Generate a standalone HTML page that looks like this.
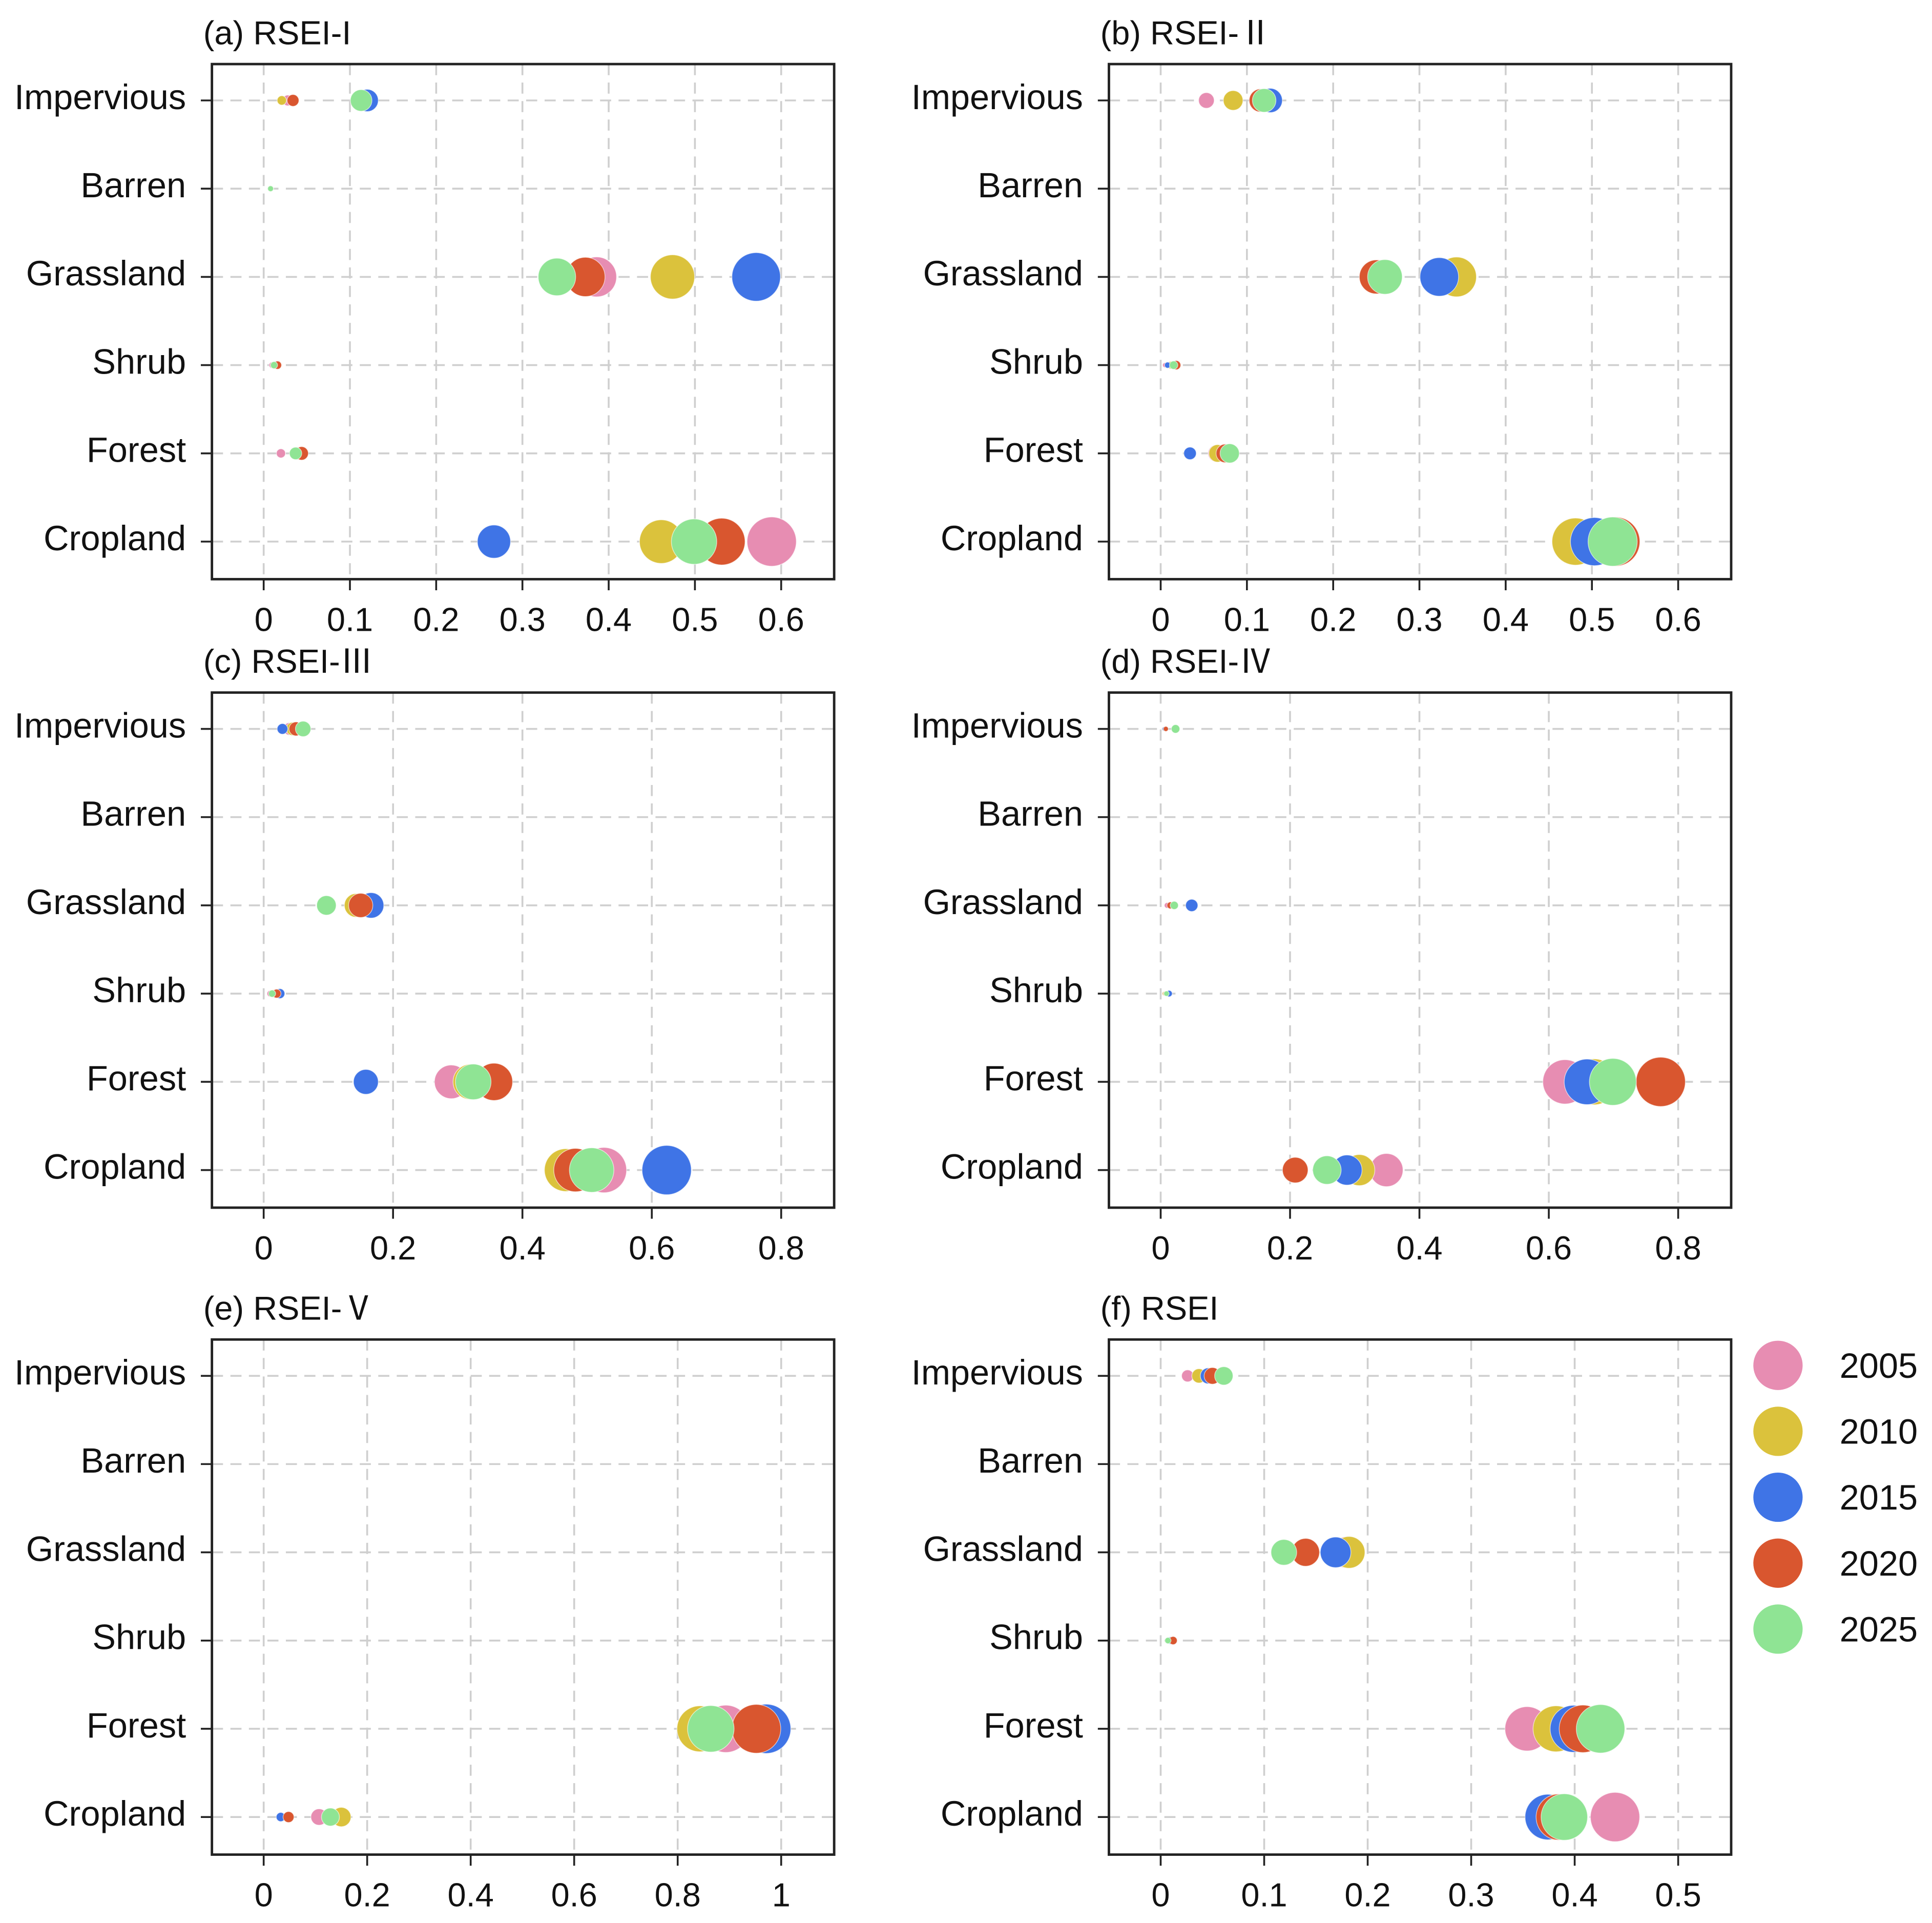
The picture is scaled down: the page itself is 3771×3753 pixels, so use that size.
<!DOCTYPE html>
<html><head><meta charset="utf-8"><style>
html,body{margin:0;padding:0;background:#fff}
svg{display:block}
text{font-family:"Liberation Sans","Noto Sans CJK SC",sans-serif;fill:#111}
</style></head><body>
<svg id="chart" width="3771" height="3753" viewBox="0 0 1568 1560.5" preserveAspectRatio="none" xmlns="http://www.w3.org/2000/svg"></svg>
<script>
const categories = ["Impervious","Barren","Grassland","Shrub","Forest","Cropland"];
const years = ["2005","2010","2015","2020","2025"];
const colors = ["#E78DB2","#DBC23C","#3F74E6","#D9562F","#8FE494"];
const panelTitles = ["(a) RSEI-I","(b) RSEI-Ⅱ","(c) RSEI-Ⅲ","(d) RSEI-Ⅳ","(e) RSEI-Ⅴ","(f) RSEI"];
const ticksA = ["0","0.1","0.2","0.3","0.4","0.5","0.6"];
const ticksC = ["0","0.2","0.4","0.6","0.8"];
const ticksE = ["0","0.2","0.4","0.6","0.8","1"];
const ticksF = ["0","0.1","0.2","0.3","0.4","0.5"];
// values per panel: [category][year 2005,2010,2015,2020,2025]
const valuesA = [[0.028,0.021,0.12,0.034,0.113],[0.008,0.008,0.008,0.008,0.008],[0.386,0.474,0.571,0.373,0.34],[0.01,0.012,0.014,0.016,0.012],[0.02,0.04,0.038,0.044,0.037],[0.589,0.461,0.267,0.531,0.499]];
const valuesB = [[0.053,0.084,0.127,0.116,0.12],[0,0,0,0,0],[0.255,0.343,0.323,0.25,0.26],[0.005,0.012,0.008,0.018,0.015],[0.065,0.066,0.034,0.075,0.08],[0.525,0.481,0.503,0.527,0.524]];
const valuesC = [[0.04,0.045,0.029,0.05,0.061],[0,0,0,0,0],[0.145,0.143,0.166,0.15,0.097],[0.01,0.015,0.025,0.02,0.013],[0.29,0.32,0.158,0.356,0.324],[0.526,0.467,0.623,0.482,0.507]];
const valuesD = [[0.004,0.005,0.006,0.008,0.023],[0,0,0,0,0],[0.01,0.02,0.048,0.015,0.021],[0.005,0.006,0.013,0.008,0.009],[0.625,0.67,0.659,0.773,0.699],[0.349,0.307,0.288,0.208,0.257]];
const valuesE = [[0,0,0,0,0],[0,0,0,0,0],[0,0,0,0,0],[0,0,0,0,0],[0.893,0.843,0.971,0.952,0.864],[0.107,0.15,0.033,0.048,0.129]];
const valuesF = [[0.026,0.037,0.046,0.05,0.061],[0,0,0,0,0],[0.18,0.182,0.169,0.14,0.119],[0.008,0.009,0.01,0.012,0.007],[0.354,0.382,0.399,0.408,0.425],[0.439,0.38,0.374,0.385,0.39]];

const NS="http://www.w3.org/2000/svg";
const svg=document.getElementById('chart');
function mk(tag,attrs,parent){const e=document.createElementNS(NS,tag);for(const k in attrs)e.setAttribute(k,attrs[k]);(parent||svg).appendChild(e);return e;}

const panels=[
 {vals:valuesA,ticks:ticksA,max:0.6,x0:172,y0:52,name:"panel-a"},
 {vals:valuesB,ticks:ticksA,max:0.6,x0:900,y0:52,name:"panel-b"},
 {vals:valuesC,ticks:ticksC,max:0.8,x0:172,y0:562,name:"panel-c"},
 {vals:valuesD,ticks:ticksC,max:0.8,x0:900,y0:562,name:"panel-d"},
 {vals:valuesE,ticks:ticksE,max:1,x0:172,y0:1087,name:"panel-e"},
 {vals:valuesF,ticks:ticksF,max:0.5,x0:900,y0:1087,name:"panel-f"}
];
const W=505,H=418,RMAX=20;
panels.forEach((p,pi)=>{
 const g=mk('g',{});
 
 
 const xs=v=>p.x0+42+v*(420/p.max);
 const ys=i=>p.y0+29.5+i*71.6;
 p.ticks.forEach(t=>{const x=xs(parseFloat(t));
  const l=mk('line',{x1:x,x2:x,y1:p.y0,y2:p.y0+H,stroke:"#cfcfcf","stroke-width":1.5,"stroke-dasharray":"9,6"},g);
  
  mk('line',{x1:x,x2:x,y1:p.y0+H,y2:p.y0+H+9,stroke:"#222","stroke-width":1.5},g);
  const tx=mk('text',{x:x,y:p.y0+H+42,"text-anchor":"middle","font-size":27},g);tx.textContent=t;
  
 });
 categories.forEach((c,i)=>{const y=ys(i);
  const l=mk('line',{x1:p.x0,x2:p.x0+W,y1:y,y2:y,stroke:"#cfcfcf","stroke-width":1.5,"stroke-dasharray":"9,6"},g);
  
  mk('line',{x1:p.x0-9,x2:p.x0,y1:y,y2:y,stroke:"#222","stroke-width":1.5},g);
  const tx=mk('text',{x:p.x0-21,y:y+7,"text-anchor":"end","font-size":28.5},g);tx.textContent=c;
  
 });
 let vmax=0;p.vals.forEach(r=>r.forEach(v=>{if(v>vmax)vmax=v;}));
 categories.forEach((c,i)=>{years.forEach((yr,j)=>{const v=p.vals[i][j];if(v<=0)return;
  const r=RMAX*Math.sqrt(v/vmax);
  const ci=mk('circle',{cx:xs(v),cy:ys(i),r:r,fill:colors[j],stroke:"#fff","stroke-width":0.6,"stroke-opacity":0.6},g);
  
  
 });});
 const box=mk('rect',{x:p.x0,y:p.y0,width:W,height:H,fill:"none",stroke:"#222","stroke-width":2},g);
 
 const tt=mk('text',{x:p.x0-7,y:p.y0-16,"font-size":27},g);tt.textContent=panelTitles[pi];
 
});
const lg=mk('g',{});


years.forEach((yr,j)=>{const y=1108+j*53.5;
 const c=mk('circle',{cx:1443,cy:y,r:20,fill:colors[j]},lg);
 
 const t=mk('text',{x:1493,y:y+10,"font-size":28.5},lg);t.textContent=yr;
 
});
</script>
</body></html>
